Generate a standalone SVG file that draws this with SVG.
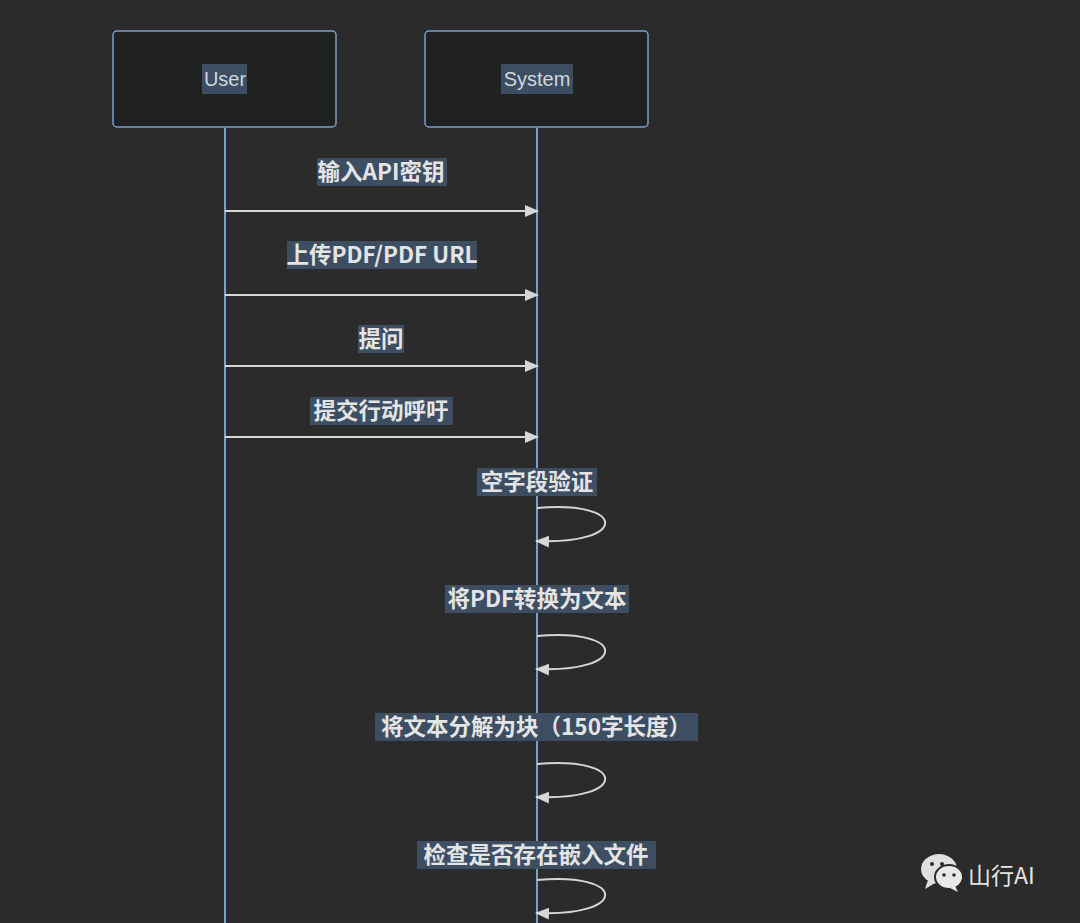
<svg xmlns="http://www.w3.org/2000/svg" width="1080" height="923" viewBox="0 0 1080 923">
<defs>
<style>
.actor{fill:#202222;stroke:#7ba0c8;stroke-width:1.5}
.life{stroke:#7ba0c8;stroke-width:2}
.msg{stroke:#d6d6d6;stroke-width:2;fill:none}
.lbl{font-family:"Noto Sans CJK SC","Liberation Sans",sans-serif;font-size:22.5px;font-weight:bold;fill:#e4e4e4;text-anchor:middle}
.bg{fill:#3d4e63}
.an{font-family:"Liberation Sans",sans-serif;font-size:20px;fill:#d0d6dc;text-anchor:middle}
</style>
<marker id="ah" markerWidth="14" markerHeight="12" refX="13" refY="6" orient="auto" markerUnits="userSpaceOnUse"><path d="M0,0 L14,6 L0,12 Z" fill="#d6d6d6"/></marker>
</defs>
<rect width="1080" height="923" fill="#2b2b2b"/>
<g id="lifelines">
<line class="life" x1="225" y1="128" x2="225" y2="923"/>
<line class="life" x1="537" y1="128" x2="537" y2="923"/>
</g>
<g id="user"><rect class="actor" x="113" y="31" width="223" height="96" rx="4"/><rect class="bg" x="202" y="64" width="45" height="30"/><text class="an" x="225" y="86">User</text></g>
<g id="system"><rect class="actor" x="425" y="31" width="223" height="96" rx="4"/><rect class="bg" x="501" y="64" width="72" height="30"/><text class="an" x="537" y="86">System</text></g>
<g id="labels">
<rect class="bg" x="317" y="158" width="130" height="28"/><text class="lbl" x="381" y="180">输入API密钥</text>
<rect class="bg" x="287" y="241" width="190" height="28"/><text class="lbl" x="382" y="263">上传PDF/PDF URL</text>
<rect class="bg" x="358" y="325" width="46" height="28"/><text class="lbl" x="381" y="347">提问</text>
<rect class="bg" x="310" y="397" width="143" height="28"/><text class="lbl" x="381" y="419">提交行动呼吁</text>
<rect class="bg" x="477" y="468" width="120" height="28"/><text class="lbl" x="537" y="490">空字段验证</text>
<rect class="bg" x="445" y="585" width="184" height="28"/><text class="lbl" x="537" y="607">将PDF转换为文本</text>
<rect class="bg" x="375" y="713" width="323" height="28"/><text class="lbl" x="536" y="735">将文本分解为块（150字长度）</text>
<rect class="bg" x="417" y="841" width="239" height="28"/><text class="lbl" x="536" y="863">检查是否存在嵌入文件</text>
</g>
<g id="connectors">
<line class="msg" x1="225" y1="211" x2="538" y2="211" marker-end="url(#ah)"/>
<line class="msg" x1="225" y1="295" x2="538" y2="295" marker-end="url(#ah)"/>
<line class="msg" x1="225" y1="366" x2="538" y2="366" marker-end="url(#ah)"/>
<line class="msg" x1="225" y1="437" x2="538" y2="437" marker-end="url(#ah)"/>
<path class="msg" d="M537,508 C628,500 628,545 536,541" marker-end="url(#ah)"/>
<path class="msg" d="M537,636 C628,628 628,673 536,669" marker-end="url(#ah)"/>
<path class="msg" d="M537,764 C628,756 628,801 536,797" marker-end="url(#ah)"/>
<path class="msg" d="M537,880 C628,872 628,917 536,913" marker-end="url(#ah)"/>
</g>
<g id="watermark">
<ellipse cx="939" cy="869" rx="18" ry="15" fill="#e0e0e0"/>
<path d="M928,880 L925,889 L935,883 Z" fill="#e0e0e0"/>
<ellipse cx="949" cy="877" rx="14" ry="12" fill="#e8e8e8" stroke="#2b2b2b" stroke-width="2"/>
<path d="M955,886 L958,892 L950,888 Z" fill="#e8e8e8"/>
<circle cx="932" cy="864" r="2" fill="#2b2b2b"/><circle cx="942" cy="864" r="2" fill="#2b2b2b"/>
<circle cx="944" cy="875" r="1.8" fill="#2b2b2b"/><circle cx="954" cy="875" r="1.8" fill="#2b2b2b"/>
<text x="968" y="884" font-family="Noto Sans CJK SC,Liberation Sans,sans-serif" font-size="23" fill="#e4e4e4">山行AI</text>
</g>
</svg>
